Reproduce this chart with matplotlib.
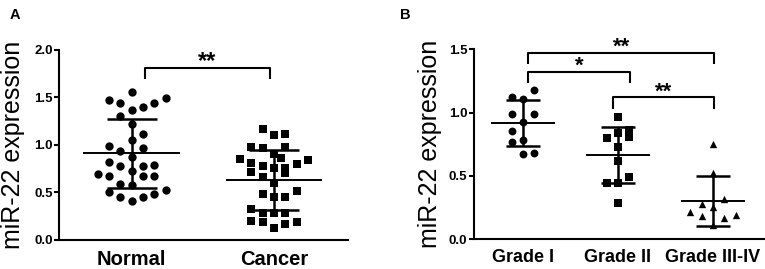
import numpy as np
import matplotlib
matplotlib.use('Agg')
from matplotlib import pyplot as plt

plt.rcParams['font.family'] = ['Liberation Sans', 'DejaVu Sans']

# panel A: miR-22 expression, normal vs cancer tissue
normal = [1.558, 1.474, 1.49, 1.44, 1.445, 1.37, 1.40, 1.30, 1.22, 1.12, 1.05,
          0.99, 0.965, 0.937, 0.877, 0.825, 0.78, 0.78, 0.79, 0.73,
          0.69, 0.674, 0.674, 0.677, 0.586, 0.576, 0.50, 0.53, 0.48,
          0.45, 0.45, 0.414]
normal_slot = [0, -2, 3, -1, 2, 0, 1, -1, 0, 1, 0,
               -2, 1, -1, 0, -2, -1, 1, 2, 0,
               -3, -2, 1, 2, -1, 0, -2, 3, 2,
               -1, 1, 0]
cancer = [1.168, 1.10, 1.116, 0.98, 0.965, 0.98, 0.91, 0.85, 0.81, 0.78,
          0.866, 0.80, 0.84, 0.72, 0.755, 0.76, 0.70, 0.666, 0.60,
          0.484, 0.456, 0.45, 0.51, 0.326, 0.28, 0.28, 0.28,
          0.20, 0.186, 0.123, 0.165, 0.19]
cancer_slot = [-1, 0, 1, -2, -1, 1, 0, -3, -2, -1,
               0.6, 2, 3, -2, 0, 1, 1, -1, 0,
               -1, 0, 1, 2, -2, -1, 0, 1,
               -2, -1, 0, 1, 2]
a_labels = ['Normal', 'Cancer']
a_mean = [0.912, 0.63]
a_sd = [0.366, 0.316]

# panel B: by tumour grade
grade1 = [1.177, 1.124, 1.105, 0.99, 0.987, 0.927, 0.856, 0.764, 0.78, 0.672, 0.68]
grade1_slot = [1, -1, 0, -1, 1, 0, -1, -1, 0, 0, 1]
grade2 = [0.961, 0.861, 0.809, 0.835, 0.796, 0.725, 0.617, 0.493, 0.441, 0.441, 0.284]
grade2_slot = [0, 1, 1, 0, -1, 0, 0, 1, -1, 0, 0]
grade3 = [0.751, 0.52, 0.318, 0.278, 0.257, 0.218, 0.186, 0.19, 0.165, 0.113]
grade3_slot = [0, 0, 1, -1, 0, -2, -1, 2, 1, 0]
b_labels = ['Grade I', 'Grade II', 'Grade III-IV']
b_mean = [0.918, 0.662, 0.302]
b_upper = [1.098, 0.883, 0.499]
b_lower = [0.738, 0.441, 0.105]

fig = plt.figure(figsize=(7.65, 2.69), dpi=100)
axA = fig.add_axes([0.0775, 0.108, 0.3774, 0.7063])
axB = fig.add_axes([0.619, 0.110, 0.380, 0.7074])


def style(ax, ymax):
    for s in ['top', 'right']:
        ax.spines[s].set_visible(False)
    for s in ['left', 'bottom']:
        ax.spines[s].set_linewidth(1.5)
    ax.set_ylim(0, ymax)
    ax.set_yticks(np.arange(0, ymax + 0.01, 0.5))
    ax.set_yticklabels(['%.1f' % t for t in np.arange(0, ymax + 0.01, 0.5)],
                       fontsize=9.5, fontweight='bold')
    ax.tick_params(axis='y', length=3.5, width=1.5, pad=1)
    ax.tick_params(axis='x', length=0, pad=7)
    ax.set_ylabel('miR-22 expression', fontsize=18)


def errbar(ax, x, m, lo, hi):
    ax.hlines(m, x - 0.34, x + 0.34, color='black', lw=1.4, zorder=2)
    ax.vlines(x, lo, hi, color='black', lw=1.8, zorder=2)
    ax.hlines([lo, hi], x - 0.175, x + 0.175, color='black', lw=1.8, zorder=2)


def bracket(ax, x1, x2, y, drop, txt, fs):
    ax.plot([x1, x1, x2, x2], [y - drop, y, y, y - drop], color='black',
            lw=1.5, solid_capstyle='butt', clip_on=False)
    ax.text((x1 + x2) / 2, y, txt, ha='center', va='baseline',
            fontsize=fs, fontweight='bold', clip_on=False)


# panel A
style(axA, 2.0)
axA.yaxis.set_label_coords((25 - 59.3) / 288.7, 0.5)
axA.set_xlim(-0.509, 1.52)
step_a = 0.08
axA.scatter(0 + step_a * np.array(normal_slot), normal, s=36, marker='o',
            color='black', zorder=3, linewidths=0)
axA.scatter(1 + step_a * np.array(cancer_slot), cancer, s=30, marker='s',
            color='black', zorder=3, linewidths=0)
for i in range(2):
    errbar(axA, i, a_mean[i], a_mean[i] - a_sd[i], a_mean[i] + a_sd[i])
axA.set_xticks([0, 1])
axA.set_xticklabels(a_labels, fontsize=14.5, fontweight='bold')
bracket(axA, 0.09, 0.97, 1.81, 0.12, '**', 17)

# panel B
style(axB, 1.5)
axB.yaxis.set_label_coords((442 - 473.5) / 290.7, 0.5)
axB.set_xlim(-0.521, 2.54)
step_b = 0.119
axB.scatter(0 + step_b * np.array(grade1_slot), grade1, s=32, marker='o',
            color='black', zorder=3, linewidths=0)
axB.scatter(1 + step_b * np.array(grade2_slot), grade2, s=28, marker='s',
            color='black', zorder=3, linewidths=0)
axB.scatter(2 + step_b * np.array(grade3_slot), grade3, s=28, marker='^',
            color='black', zorder=3, linewidths=0)
for i in range(3):
    errbar(axB, i, b_mean[i], b_lower[i], b_upper[i])
axB.set_xticks([0, 1, 2])
axB.set_xticklabels(b_labels, fontsize=13, fontweight='bold')
bracket(axB, 0.056, 2.01, 1.47, 0.09, '**', 16)
bracket(axB, 0.056, 1.126, 1.32, 0.09, '*', 16)
bracket(axB, 0.95, 2.01, 1.119, 0.09, '**', 16)

fig.text(15 / 765, 1 - 15 / 269, 'A', fontsize=10.5, fontweight='bold',
         ha='center', va='center')
fig.text(405 / 765, 1 - 15 / 269, 'B', fontsize=10.5, fontweight='bold',
         ha='center', va='center')

fig.savefig('out.png', dpi=100)
